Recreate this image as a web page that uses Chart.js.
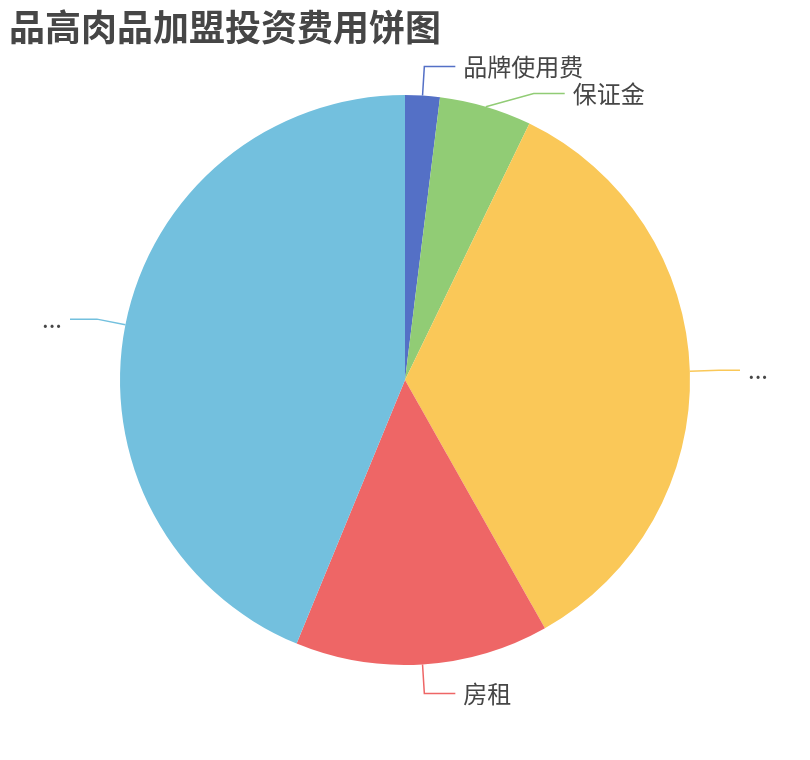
<!DOCTYPE html>
<html>
<head>
<meta charset="utf-8">
<script src="https://cdn.jsdelivr.net/npm/chart.js@4/dist/chart.umd.min.js"></script>
<style>
  html, body { margin: 0; padding: 0; background: #fff; }
  #pie { display: block; }
</style>
</head>
<body>
<canvas id="pie" width="810" height="760"></canvas>
<script>
const chartTitle = "品高肉品加盟投资费用饼图";
const categories = ["品牌使用费", "保证金", "...", "房租", "..."];
const values = [0.3, 0.8, 5.3, 2.2, 6.7];
const colors = ["#5470c6", "#91cc75", "#fac858", "#ee6666", "#73c0de"];

const fontFamily = '"Noto Sans CJK SC", "Noto Sans", sans-serif';

// outside labels with leader lines, roughly like echarts does it
const pieLabels = {
  id: "pieLabels",
  afterDraw(chart) {
    const ctx = chart.ctx;
    const arcs = chart.getDatasetMeta(0).data;
    const len1 = 29, len2 = 31, gap = 27, edge = 42, textGap = 8;

    ctx.save();
    ctx.font = "24px " + fontFamily;

    const items = arcs.map((arc, i) => {
      const { x, y, outerRadius, startAngle, endAngle } = arc.getProps(["x", "y", "outerRadius", "startAngle", "endAngle"], true);
      const mid = (startAngle + endAngle) / 2;
      const R = outerRadius + len1;
      return {
        i, cx: x, cy: y, R,
        ex: x + Math.cos(mid) * outerRadius,
        ey: y + Math.sin(mid) * outerRadius,
        bx: x + Math.cos(mid) * R,
        by: y + Math.sin(mid) * R,
        right: Math.cos(mid) >= 0,
        moved: false
      };
    });

    // push overlapping labels apart on each side
    [true, false].forEach(side => {
      const list = items.filter(it => it.right === side).sort((a, b) => a.by - b.by);
      for (let k = 1; k < list.length; k++) {
        if (list[k].by - list[k - 1].by < gap) {
          list[k].by = list[k - 1].by + gap;
          list[k].moved = true;
        }
      }
      list.forEach(it => {
        if (!it.moved) return;
        const dy = it.by - it.cy;
        if (Math.abs(dy) < it.R) {
          const dx = Math.sqrt(it.R * it.R - dy * dy);
          it.bx = it.cx + (it.right ? dx : -dx);
        }
      });
    });

    items.forEach(it => {
      const text = categories[it.i];
      const tw = ctx.measureText(text).width;
      let endX;
      if (it.right) {
        endX = Math.min(it.bx + len2, chart.width - edge - tw - textGap);
      } else {
        endX = Math.max(it.bx - len2, edge + tw + textGap);
      }

      ctx.strokeStyle = colors[it.i];
      ctx.lineWidth = 1.5;
      ctx.beginPath();
      ctx.moveTo(it.ex, it.ey);
      ctx.lineTo(it.bx, it.by);
      ctx.lineTo(endX, it.by);
      ctx.stroke();

      ctx.fillStyle = "#464646";
      ctx.textBaseline = "middle";
      ctx.textAlign = it.right ? "left" : "right";
      ctx.fillText(text, it.right ? endX + textGap : endX - textGap, it.by);
    });

    // title
    ctx.font = "bold 36px " + fontFamily;
    ctx.fillStyle = "#464646";
    ctx.textAlign = "left";
    ctx.textBaseline = "middle";
    ctx.fillText(chartTitle, 9, 27);
    ctx.restore();
  }
};

new Chart(document.getElementById("pie"), {
  type: "pie",
  data: {
    labels: categories,
    datasets: [{
      data: values,
      backgroundColor: colors,
      borderWidth: 0,
      hoverOffset: 0
    }]
  },
  options: {
    responsive: false,
    animation: false,
    devicePixelRatio: 1,
    layout: { padding: { top: 95, bottom: 95, left: 0, right: 0 } },
    plugins: {
      legend: { display: false },
      tooltip: { enabled: false },
      title: { display: false }
    }
  },
  plugins: [pieLabels]
});
</script>
</body>
</html>
